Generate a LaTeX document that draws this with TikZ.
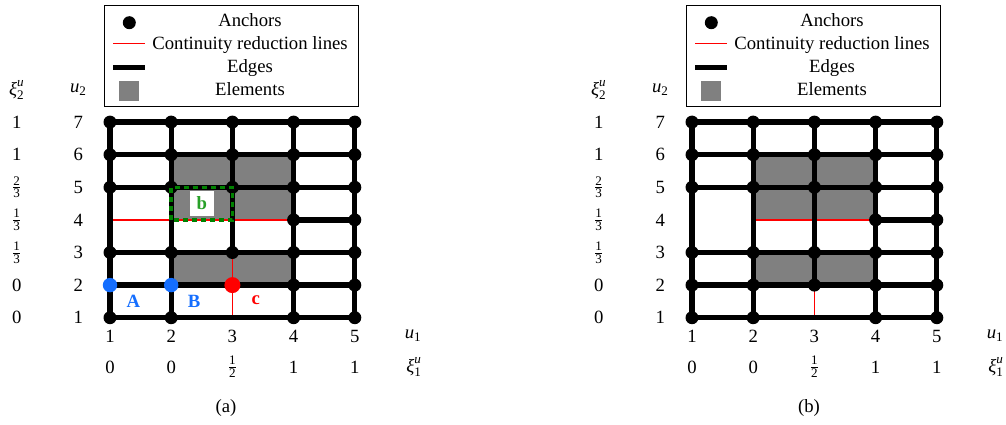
\documentclass[tikz,border=0pt]{standalone}
\usepackage{amsmath}
\usepackage{fontspec}
\setmainfont{Liberation Serif}
\usetikzlibrary{calc}
\definecolor{myblue}{RGB}{20,110,255}
\definecolor{myred}{RGB}{255,0,0}
\definecolor{dgreen}{RGB}{0,130,0}
\definecolor{lgreen}{RGB}{40,160,40}
\newcommand\fr[2]{$\tfrac{\text{#1}}{\text{#2}}$}
\newcommand\xiu[1]{$\text{\itshape ξ}^{\text{\itshape u}}_{\text{#1}}$}
\newcommand\uu[1]{$\text{\itshape u}_{\text{#1}}$}
\tikzset{
  edgeline/.style={line width=5.3pt, black},
  redline/.style={line width=1.4pt, myred},
  elemfill/.style={fill=gray},
  ancdot/.style={circle, fill=black, inner sep=0pt, minimum size=13pt},
  bluedot/.style={circle, fill=myblue, inner sep=0pt, minimum size=14.4pt},
  reddot/.style={circle, fill=myred, inner sep=0pt, minimum size=16pt},
  lbl/.style={inner sep=0pt, font=\fontsize{18.7pt}{22pt}\selectfont},
  boldlbl/.style={lbl, font=\fontsize{18.7pt}{22pt}\selectfont\bfseries},
  legbox/.style={draw, line width=0.8pt, inner sep=0pt, minimum width=254pt, minimum height=101pt},
  greenbox/.style={dgreen, line width=3.6pt, dash pattern=on 5pt off 4pt},
}
\begin{document}
\begin{tikzpicture}[x=1pt,y=-1pt]
\useasboundingbox (0,0) rectangle (1006,425);
% grid coordinates
\foreach \p/\ox in {a/0,b/582}{
  \foreach \i in {1,...,5}{
    \foreach \j in {1,...,7}{
      \coordinate (\p-\i-\j) at ({\ox+110+61.2*(\i-1)},{317.7-32.6*(\j-1)});
    }
  }
  % legend
  \node[legbox] (\p-leg) at ({\ox+231.3},56.2) {};
  \node[ancdot] (\p-legdot) at ({\ox+129.3},22.7) {};
  \coordinate (\p-lr1) at ({\ox+113.3},43.5);
  \coordinate (\p-lr2) at ({\ox+145},43.5);
  \draw[redline] (\p-lr1) -- (\p-lr2);
  \coordinate (\p-le1) at ({\ox+113.3},67.7);
  \coordinate (\p-le2) at ({\ox+145},67.7);
  \draw[edgeline] (\p-le1) -- (\p-le2);
  \fill[gray] ({\ox+119.2},81) rectangle ({\ox+138.9},100.7);
  \node[lbl, anchor=base] (\p-t1) at ({\ox+250},26.7) {Anchors};
  \node[lbl, anchor=base] (\p-t2) at ({\ox+250},49.5) {Continuity reduction lines};
  \node[lbl, anchor=base] (\p-t3) at ({\ox+250},72.5) {Edges};
  \node[lbl, anchor=base] (\p-t4) at ({\ox+250},95.5) {Elements};
  % axis labels
  \node[lbl] (\p-xi2) at ({\ox+16.7},90) {\xiu{2}};
  \node[lbl] (\p-u2) at ({\ox+78.3},90) {\uu{2}};
  \foreach \j/\v in {1/0,2/0,3/\fr{1}{3},4/\fr{1}{3},5/\fr{2}{3},6/1,7/1}{
    \node[lbl] (\p-xv\j) at ({\ox+16.7},{317.7-32.6*(\j-1)}) {\v};
    \node[lbl] (\p-uv\j) at ({\ox+78.3},{317.7-32.6*(\j-1)}) {\j};
  }
  \foreach \i/\v in {1/0,2/0,3/\fr{1}{2},4/1,5/1}{
    \node[lbl] (\p-uh\i) at ({\ox+110+61.2*(\i-1)},336) {\i};
    \node[lbl] (\p-xh\i) at ({\ox+110+61.2*(\i-1)},367) {\v};
  }
  \node[lbl] (\p-u1) at ({\ox+413},336) {\uu{1}};
  \node[lbl] (\p-xi1) at ({\ox+414},367) {\xiu{1}};
  % elements
  \fill[elemfill] (\p-2-4) rectangle (\p-4-6);
  \fill[elemfill] (\p-2-2) rectangle (\p-4-3);
}
\node[lbl] (capa) at (226,408) {(a)};
\node[lbl] (capb) at (809,408) {(b)};

% ---------- panel (a) ----------
\draw[redline] (a-1-4) -- (a-4-4);
\draw[redline] (a-3-1) -- (a-3-3);
\foreach \j in {1,2,3,5,6,7} \draw[edgeline] (a-1-\j) -- (a-5-\j);
\draw[edgeline] (a-4-4) -- (a-5-4);
\foreach \i in {1,2,4,5} \draw[edgeline] (a-\i-1) -- (a-\i-7);
\draw[edgeline] (a-3-3) -- (a-3-7);
\foreach \j in {3,5,6,7}{\foreach \i in {1,...,5}{\node[ancdot] (ad-\i-\j) at (a-\i-\j) {};}}
\foreach \i in {4,5}{\node[ancdot] (ad-\i-4) at (a-\i-4) {}; \node[ancdot] (ad-\i-2) at (a-\i-2) {};}
\foreach \i in {1,2,4,5}{\node[ancdot] (ad-\i-1) at (a-\i-1) {};}
\node[bluedot] (ptA) at (a-1-2) {};
\node[bluedot] (ptB) at (a-2-2) {};
\node[reddot] (ptc) at (a-3-2) {};
\draw[greenbox] (a-2-4) rectangle (a-3-5);
\node[boldlbl, fill=white, text=lgreen, minimum width=23.5pt, minimum height=24.5pt] (lb) at ($(a-2-4)!0.5!(a-3-5)$) {b};
\node[boldlbl, text=myblue] (lA) at (133.3,301.7) {A};
\node[boldlbl, text=myblue] (lB) at (194,301.7) {B};
\node[boldlbl, text=myred] (lc) at (255.7,300.5) {c};

% ---------- panel (b) ----------
\draw[redline] (b-2-4) -- (b-4-4);
\draw[redline] (b-3-1) -- (b-3-2);
\foreach \j in {1,2,3,5,6,7} \draw[edgeline] (b-1-\j) -- (b-5-\j);
\draw[edgeline] (b-4-4) -- (b-5-4);
\foreach \i in {1,2,4,5} \draw[edgeline] (b-\i-1) -- (b-\i-7);
\draw[edgeline] (b-3-2) -- (b-3-7);
\foreach \j in {2,3,5,6,7}{\foreach \i in {1,...,5}{\node[ancdot] (bd-\i-\j) at (b-\i-\j) {};}}
\foreach \i in {4,5}{\node[ancdot] (bd-\i-4) at (b-\i-4) {};}
\foreach \i in {1,2,4,5}{\node[ancdot] (bd-\i-1) at (b-\i-1) {};}
\end{tikzpicture}
\end{document}
